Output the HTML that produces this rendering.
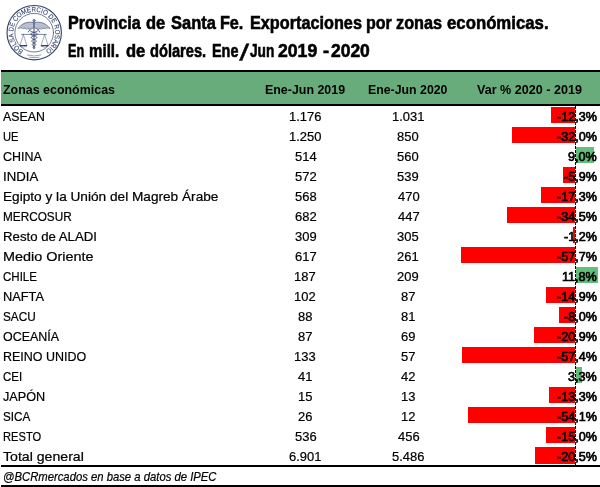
<!DOCTYPE html>
<html lang="es"><head><meta charset="utf-8"><title>Provincia de Santa Fe. Exportaciones por zonas económicas</title>
<style>
html,body{margin:0;padding:0;background:#fff;}
body{width:600px;height:487px;position:relative;overflow:hidden;font-family:"Liberation Sans",sans-serif;color:#000;}
h1,h2,p{margin:0;padding:0;font-size:inherit;font-weight:inherit}
.t{position:absolute;white-space:pre;line-height:1;transform-origin:0 0;display:block;margin:0;padding:0;-webkit-text-stroke:0.22px #000;}
.b{font-weight:bold;-webkit-text-stroke:0px #000;}.sb{-webkit-text-stroke:0.7px #000;}.i{font-style:italic}
.ttl .t{font-weight:bold;-webkit-text-stroke:0.6px #000;}
.hdr{position:absolute;left:1px;top:70px;width:599px;height:32px;background:#68ac7c;border-top:2px solid #000;border-bottom:2px solid #000;}
.ln{position:absolute;left:1px;width:599px;background:#000;}
.bar{position:absolute;height:16px;}
.neg{background:#ff0000}.pos{background:#63be7b}
.axis{position:absolute;left:575px;top:106px;width:1px;height:359px;background:repeating-linear-gradient(to bottom,#000 0,#000 3px,transparent 3px,transparent 4px);}
.logo{position:absolute;left:0;top:0}
</style></head><body>
<svg class="logo" width="70" height="66" viewBox="0 0 70 66" role="img" aria-label="Bolsa de Comercio de Rosario">
<defs><path id="ring" d="M23.49,50.53 A20.8,20.8 0 1 1 44.91,14.87 A20.8,20.8 0 1 1 23.49,50.53"/></defs>
<g fill="none" stroke="#34436f" stroke-linecap="round" stroke-linejoin="round">
<circle cx="34.2" cy="32.7" r="27.2" stroke-width="1.15"/>
<circle cx="34.2" cy="32.7" r="19.3" stroke-width="0.7"/>
<path d="M27.39,54.98 A23.3,23.3 0 0 0 41.01,54.98 M29.43,57.24 A25.0,25.0 0 0 0 38.97,57.24" stroke-width="0.5"/>
<path d="M34,21.8 V48.6" stroke-width="0.9"/>
<circle cx="34" cy="20.6" r="1.25" fill="#34436f" fill-opacity="0.45" stroke-width="0.5"/>
<path d="M33.30,22.6 C31.00,21.9 27.00,21.9 24.00,23.4 C21.50,24.8 19.40,26.6 17.90,28.5 C20.00,27.9 21.60,27.9 22.80,28.5 C24.40,28.1 25.60,28.3 26.60,29.1 C28.00,28.6 29.00,28.8 29.80,29.6 C31.00,29 32.40,28.4 33.30,28 Z M34.70,22.6 C37.00,21.9 41.00,21.9 44.00,23.4 C46.50,24.8 48.60,26.6 50.10,28.5 C48.00,27.9 46.40,27.9 45.20,28.5 C43.60,28.1 42.40,28.3 41.40,29.1 C40.00,28.6 39.00,28.8 38.20,29.6 C37.00,29 35.60,28.4 34.70,28 Z" fill="#34436f" fill-opacity="0.42" stroke-width="0.55"/>
<path d="M33.00,24 C29.00,23.2 25.00,24.4 19.60,27.6 M33.00,25.5 C29.50,24.8 26.00,25.8 22.40,28 M33.00,27 C30.50,26.5 28.00,27.2 26.00,28.6 M35.00,24 C39.00,23.2 43.00,24.4 48.40,27.6 M35.00,25.5 C38.50,24.8 42.00,25.8 45.60,28 M35.00,27 C37.50,26.5 40.00,27.2 42.00,28.6" stroke-width="0.45" stroke="#fff" stroke-opacity="0.75"/>
<path d="M39.60,31.9 C39.40,30.4 38.40,30 37.80,30.60 L37.70,30.82 L37.46,31.04 L37.10,31.26 L36.62,31.48 L36.04,31.70 L35.40,31.92 L34.71,32.14 L34.00,32.36 L33.30,32.58 L32.64,32.80 L32.04,33.02 L31.53,33.24 L31.12,33.46 L30.82,33.68 L30.65,33.90 L30.61,34.12 L30.71,34.34 L30.92,34.56 L31.25,34.78 L31.68,35.00 L32.19,35.22 L32.77,35.44 L33.38,35.66 L34.00,35.88 L34.61,36.10 L35.19,36.32 L35.71,36.54 L36.16,36.76 L36.51,36.98 L36.76,37.20 L36.90,37.42 L36.93,37.64 L36.84,37.86 L36.65,38.08 L36.36,38.30 L35.98,38.52 L35.54,38.74 L35.05,38.96 L34.53,39.18 L34.00,39.40 L33.48,39.62 L33.00,39.84 L32.57,40.06 L32.20,40.28 L31.91,40.50 L31.71,40.72 L31.61,40.94 L31.60,41.16 L31.68,41.38 L31.85,41.60 L32.09,41.82 L32.40,42.04 L32.77,42.26 L33.17,42.48 L33.58,42.70 L34.00,42.92 L34.40,43.14 L34.77,43.36 L35.10,43.58 L35.37,43.80 L35.57,44.02 L35.71,44.24 L35.77,44.46 L35.76,44.68 L35.68,44.90 L35.53,45.12 L35.34,45.34 L35.10,45.56 L34.84,45.78 L34.55,46.00 L34.27,46.22 L34.00,46.44 L33.75,46.66 L33.54,46.88 L33.37,47.10 L33.26,47.32 L33.20,47.54 L33.20,47.76 L33.28,47.98 L33.50,48.20" stroke-width="0.85"/>
<path d="M28.40,31.9 C28.60,30.4 29.60,30 30.20,30.60 L30.30,30.82 L30.54,31.04 L30.90,31.26 L31.38,31.48 L31.96,31.70 L32.60,31.92 L33.29,32.14 L34.00,32.36 L34.70,32.58 L35.36,32.80 L35.96,33.02 L36.47,33.24 L36.88,33.46 L37.18,33.68 L37.35,33.90 L37.39,34.12 L37.29,34.34 L37.08,34.56 L36.75,34.78 L36.32,35.00 L35.81,35.22 L35.23,35.44 L34.62,35.66 L34.00,35.88 L33.39,36.10 L32.81,36.32 L32.29,36.54 L31.84,36.76 L31.49,36.98 L31.24,37.20 L31.10,37.42 L31.07,37.64 L31.16,37.86 L31.35,38.08 L31.64,38.30 L32.02,38.52 L32.46,38.74 L32.95,38.96 L33.47,39.18 L34.00,39.40 L34.52,39.62 L35.00,39.84 L35.43,40.06 L35.80,40.28 L36.09,40.50 L36.29,40.72 L36.39,40.94 L36.40,41.16 L36.32,41.38 L36.15,41.60 L35.91,41.82 L35.60,42.04 L35.23,42.26 L34.83,42.48 L34.42,42.70 L34.00,42.92 L33.60,43.14 L33.23,43.36 L32.90,43.58 L32.63,43.80 L32.43,44.02 L32.29,44.24 L32.23,44.46 L32.24,44.68 L32.32,44.90 L32.47,45.12 L32.66,45.34 L32.90,45.56 L33.16,45.78 L33.45,46.00 L33.73,46.22 L34.00,46.44 L34.25,46.66 L34.46,46.88 L34.63,47.10 L34.74,47.32 L34.80,47.54 L34.80,47.76 L34.72,47.98 L34.50,48.20" stroke-width="0.85"/>
<path d="M21.6,34.4 H46.4" stroke-width="0.65"/>
<path d="M23.4,34.6 L20,45.2 M23.4,34.6 L26.8,45.2 M44.6,34.6 L41.2,45.2 M44.6,34.6 L48,45.2" stroke-width="0.45"/>
<path d="M19.7,45.7 H27.1 M40.9,45.7 H48.3" stroke-width="1.2" stroke-linecap="butt"/>
<path d="M20.2,46.4 Q23.4,48 26.6,46.4 M41.4,46.4 Q44.6,48 47.8,46.4" stroke-width="0.45"/>
</g>
<text font-family="Liberation Sans, sans-serif" font-size="7" fill="#34436f" stroke="#34436f" stroke-width="0.1"><textPath href="#ring" startOffset="0" textLength="107.8" lengthAdjust="spacingAndGlyphs">BOLSA DE COMERCIO DE ROSARIO</textPath></text>
</svg>
<h1 class="ttl"><span class="t b" style="left:68.19px;top:12px;font-size:19px;line-height:21px;transform:scaleX(0.8491)">Provincia</span> <span class="t b" style="left:146.35px;top:12px;font-size:19px;line-height:21px;transform:scaleX(0.8675)">de</span> <span class="t b" style="left:170.60px;top:12px;font-size:19px;line-height:21px;transform:scaleX(0.8676)">Santa</span> <span class="t b" style="left:220.19px;top:12px;font-size:19px;line-height:21px;transform:scaleX(0.8500)">Fe.</span> <span class="t b" style="left:249.93px;top:12px;font-size:19px;line-height:21px;transform:scaleX(0.8547)">Exportaciones</span> <span class="t b" style="left:365.69px;top:12px;font-size:19px;line-height:21px;transform:scaleX(0.8448)">por</span> <span class="t b" style="left:396.36px;top:12px;font-size:19px;line-height:21px;transform:scaleX(0.8565)">zonas</span> <span class="t b" style="left:447.34px;top:12px;font-size:19px;line-height:21px;transform:scaleX(0.8823)">económicas.</span></h1>
<h2 class="ttl"><span class="t b" style="left:68.40px;top:40px;font-size:18.6px;line-height:21px;transform:scaleX(0.6824)">En</span> <span class="t b" style="left:89.48px;top:40px;font-size:18.6px;line-height:21px;transform:scaleX(0.8129)">mill.</span> <span class="t b" style="left:125.58px;top:40px;font-size:18.6px;line-height:21px;transform:scaleX(0.8889)">de</span> <span class="t b" style="left:149.91px;top:40px;font-size:18.6px;line-height:21px;transform:scaleX(0.7870)">dólares.</span> <span class="t b" style="left:212.33px;top:40px;font-size:18.6px;line-height:21px;transform:scaleX(0.7752)">Ene</span><span class="t b" style="left:241.4px;top:40px;font-size:22.5px;line-height:25px;transform-origin:50% 50%;transform:skewX(-13deg)">/</span><span class="t b" style="left:250.12px;top:40px;font-size:18.6px;line-height:21px;transform:scaleX(0.7370)">Jun</span> <span class="t b" style="left:278.09px;top:40px;font-size:18.6px;line-height:21px;transform:scaleX(0.9487)">2019</span> <span class="t b" style="left:322.56px;top:40px;font-size:18.6px;line-height:21px;transform:scaleX(0.9895)">-</span> <span class="t b" style="left:331.30px;top:40px;font-size:18.6px;line-height:21px;transform:scaleX(0.9384)">2020</span></h2>
<div class="hdr"></div>
<div class="head"><span class="t b" style="left:3.13px;top:82px;font-size:13.1px;line-height:15px;transform:scaleX(0.9499)">Zonas económicas</span><span class="t b" style="left:265.05px;top:82px;font-size:13.1px;line-height:15px;transform:scaleX(0.9482)">Ene-Jun 2019</span><span class="t b" style="left:368.46px;top:82px;font-size:13.1px;line-height:15px;transform:scaleX(0.9414)">Ene-Jun 2020</span><span class="t b" style="left:477.26px;top:82px;font-size:13.1px;line-height:15px;transform:scaleX(0.9613)">Var % 2020 - 2019</span></div>
<div class="row"><i class="bar neg" style="left:551px;top:107px;width:24px"></i><span class="t" style="left:3.10px;top:109px;font-size:13.1px;line-height:15px;transform:scaleX(0.9422)">ASEAN</span><span class="t" style="left:288.96px;top:109px;font-size:13.1px;line-height:15px;transform:scaleX(0.9889)">1.176</span><span class="t" style="left:391.76px;top:109px;font-size:13.1px;line-height:15px;transform:scaleX(0.9889)">1.031</span><span class="t sb" style="left:556.52px;top:109px;font-size:13.1px;line-height:15px;transform:scaleX(0.9630)">-12,3%</span></div>
<div class="row"><i class="bar neg" style="left:512px;top:127px;width:63px"></i><span class="t" style="left:3.25px;top:129px;font-size:13.1px;line-height:15px;transform:scaleX(0.8485)">UE</span><span class="t" style="left:288.96px;top:129px;font-size:13.1px;line-height:15px;transform:scaleX(0.9889)">1.250</span><span class="t" style="left:397.45px;top:129px;font-size:13.1px;line-height:15px;transform:scaleX(0.9889)">850</span><span class="t sb" style="left:556.52px;top:129px;font-size:13.1px;line-height:15px;transform:scaleX(0.9630)">-32,0%</span></div>
<div class="row"><i class="bar pos" style="left:576px;top:147px;width:18px"></i><span class="t" style="left:2.89px;top:149px;font-size:13.1px;line-height:15px;transform:scaleX(0.9500)">CHINA</span><span class="t" style="left:294.52px;top:149px;font-size:13.1px;line-height:15px;transform:scaleX(0.9889)">514</span><span class="t" style="left:397.45px;top:149px;font-size:13.1px;line-height:15px;transform:scaleX(0.9889)">560</span><span class="t sb" style="left:567.83px;top:149px;font-size:13.1px;line-height:15px;transform:scaleX(0.9630)">9,0%</span></div>
<div class="row"><i class="bar neg" style="left:563px;top:167px;width:12px"></i><span class="t" style="left:2.84px;top:169px;font-size:13.1px;line-height:15px;transform:scaleX(1.0075)">INDIA</span><span class="t" style="left:294.65px;top:169px;font-size:13.1px;line-height:15px;transform:scaleX(0.9889)">572</span><span class="t" style="left:397.45px;top:169px;font-size:13.1px;line-height:15px;transform:scaleX(0.9889)">539</span><span class="t sb" style="left:563.50px;top:169px;font-size:13.1px;line-height:15px;transform:scaleX(0.9630)">-5,9%</span></div>
<div class="row"><i class="bar neg" style="left:541px;top:187px;width:34px"></i><span class="t" style="left:3.06px;top:189px;font-size:13.1px;line-height:15px;transform:scaleX(1.0421)">Egipto y la Unión del Magreb Árabe</span><span class="t" style="left:294.65px;top:189px;font-size:13.1px;line-height:15px;transform:scaleX(0.9889)">568</span><span class="t" style="left:397.57px;top:189px;font-size:13.1px;line-height:15px;transform:scaleX(0.9889)">470</span><span class="t sb" style="left:556.52px;top:189px;font-size:13.1px;line-height:15px;transform:scaleX(0.9630)">-17,3%</span></div>
<div class="row"><i class="bar neg" style="left:507px;top:207px;width:68px"></i><span class="t" style="left:3.20px;top:209px;font-size:13.1px;line-height:15px;transform:scaleX(0.8997)">MERCOSUR</span><span class="t" style="left:294.52px;top:209px;font-size:13.1px;line-height:15px;transform:scaleX(0.9889)">682</span><span class="t" style="left:397.57px;top:209px;font-size:13.1px;line-height:15px;transform:scaleX(0.9889)">447</span><span class="t sb" style="left:556.52px;top:209px;font-size:13.1px;line-height:15px;transform:scaleX(0.9630)">-34,5%</span></div>
<div class="row"><i class="bar neg" style="left:573px;top:227px;width:2px"></i><span class="t" style="left:3.09px;top:229px;font-size:13.1px;line-height:15px;transform:scaleX(1.0082)">Resto de ALADI</span><span class="t" style="left:294.65px;top:229px;font-size:13.1px;line-height:15px;transform:scaleX(0.9889)">309</span><span class="t" style="left:397.45px;top:229px;font-size:13.1px;line-height:15px;transform:scaleX(0.9889)">305</span><span class="t sb" style="left:563.50px;top:229px;font-size:13.1px;line-height:15px;transform:scaleX(0.9630)">-1,2%</span></div>
<div class="row"><i class="bar neg" style="left:461px;top:247px;width:114px"></i><span class="t" style="left:3.00px;top:249px;font-size:13.1px;line-height:15px;transform:scaleX(1.0991)">Medio Oriente</span><span class="t" style="left:294.52px;top:249px;font-size:13.1px;line-height:15px;transform:scaleX(0.9889)">617</span><span class="t" style="left:397.32px;top:249px;font-size:13.1px;line-height:15px;transform:scaleX(0.9889)">261</span><span class="t sb" style="left:556.52px;top:249px;font-size:13.1px;line-height:15px;transform:scaleX(0.9630)">-57,7%</span></div>
<div class="row"><i class="bar pos" style="left:576px;top:267px;width:22px"></i><span class="t" style="left:2.94px;top:269px;font-size:13.1px;line-height:15px;transform:scaleX(0.8792)">CHILE</span><span class="t" style="left:294.40px;top:269px;font-size:13.1px;line-height:15px;transform:scaleX(0.9889)">187</span><span class="t" style="left:397.32px;top:269px;font-size:13.1px;line-height:15px;transform:scaleX(0.9889)">209</span><span class="t sb" style="left:561.57px;top:269px;font-size:13.1px;line-height:15px;transform:scaleX(0.9630)">11,8%</span></div>
<div class="row"><i class="bar neg" style="left:546px;top:287px;width:29px"></i><span class="t" style="left:3.12px;top:289px;font-size:13.1px;line-height:15px;transform:scaleX(0.9755)">NAFTA</span><span class="t" style="left:294.40px;top:289px;font-size:13.1px;line-height:15px;transform:scaleX(0.9889)">102</span><span class="t" style="left:401.03px;top:289px;font-size:13.1px;line-height:15px;transform:scaleX(0.9889)">87</span><span class="t sb" style="left:556.52px;top:289px;font-size:13.1px;line-height:15px;transform:scaleX(0.9630)">-14,9%</span></div>
<div class="row"><i class="bar neg" style="left:559px;top:307px;width:16px"></i><span class="t" style="left:2.68px;top:309px;font-size:13.1px;line-height:15px;transform:scaleX(0.8993)">SACU</span><span class="t" style="left:298.23px;top:309px;font-size:13.1px;line-height:15px;transform:scaleX(0.9889)">88</span><span class="t" style="left:401.03px;top:309px;font-size:13.1px;line-height:15px;transform:scaleX(0.9889)">81</span><span class="t sb" style="left:563.50px;top:309px;font-size:13.1px;line-height:15px;transform:scaleX(0.9630)">-8,0%</span></div>
<div class="row"><i class="bar neg" style="left:534px;top:327px;width:41px"></i><span class="t" style="left:2.89px;top:329px;font-size:13.1px;line-height:15px;transform:scaleX(0.9526)">OCEANÍA</span><span class="t" style="left:298.23px;top:329px;font-size:13.1px;line-height:15px;transform:scaleX(0.9889)">87</span><span class="t" style="left:400.91px;top:329px;font-size:13.1px;line-height:15px;transform:scaleX(0.9889)">69</span><span class="t sb" style="left:556.52px;top:329px;font-size:13.1px;line-height:15px;transform:scaleX(0.9630)">-20,9%</span></div>
<div class="row"><i class="bar neg" style="left:462px;top:347px;width:113px"></i><span class="t" style="left:3.15px;top:349px;font-size:13.1px;line-height:15px;transform:scaleX(0.9534)">REINO UNIDO</span><span class="t" style="left:294.40px;top:349px;font-size:13.1px;line-height:15px;transform:scaleX(0.9889)">133</span><span class="t" style="left:401.03px;top:349px;font-size:13.1px;line-height:15px;transform:scaleX(0.9889)">57</span><span class="t sb" style="left:556.52px;top:349px;font-size:13.1px;line-height:15px;transform:scaleX(0.9630)">-57,4%</span></div>
<div class="row"><i class="bar pos" style="left:576px;top:367px;width:6px"></i><span class="t" style="left:2.94px;top:369px;font-size:13.1px;line-height:15px;transform:scaleX(0.8734)">CEI</span><span class="t" style="left:298.35px;top:369px;font-size:13.1px;line-height:15px;transform:scaleX(0.9889)">41</span><span class="t" style="left:401.15px;top:369px;font-size:13.1px;line-height:15px;transform:scaleX(0.9889)">42</span><span class="t sb" style="left:567.83px;top:369px;font-size:13.1px;line-height:15px;transform:scaleX(0.9630)">3,3%</span></div>
<div class="row"><i class="bar neg" style="left:549px;top:387px;width:26px"></i><span class="t" style="left:2.86px;top:389px;font-size:13.1px;line-height:15px;transform:scaleX(0.9645)">JAPÓN</span><span class="t" style="left:297.98px;top:389px;font-size:13.1px;line-height:15px;transform:scaleX(0.9889)">15</span><span class="t" style="left:400.78px;top:389px;font-size:13.1px;line-height:15px;transform:scaleX(0.9889)">13</span><span class="t sb" style="left:556.52px;top:389px;font-size:13.1px;line-height:15px;transform:scaleX(0.9630)">-13,3%</span></div>
<div class="row"><i class="bar neg" style="left:468px;top:407px;width:107px"></i><span class="t" style="left:2.68px;top:409px;font-size:13.1px;line-height:15px;transform:scaleX(0.8908)">SICA</span><span class="t" style="left:298.11px;top:409px;font-size:13.1px;line-height:15px;transform:scaleX(0.9889)">26</span><span class="t" style="left:400.78px;top:409px;font-size:13.1px;line-height:15px;transform:scaleX(0.9889)">12</span><span class="t sb" style="left:556.52px;top:409px;font-size:13.1px;line-height:15px;transform:scaleX(0.9630)">-54,1%</span></div>
<div class="row"><i class="bar neg" style="left:546px;top:427px;width:29px"></i><span class="t" style="left:3.25px;top:429px;font-size:13.1px;line-height:15px;transform:scaleX(0.8497)">RESTO</span><span class="t" style="left:294.65px;top:429px;font-size:13.1px;line-height:15px;transform:scaleX(0.9889)">536</span><span class="t" style="left:397.57px;top:429px;font-size:13.1px;line-height:15px;transform:scaleX(0.9889)">456</span><span class="t sb" style="left:556.52px;top:429px;font-size:13.1px;line-height:15px;transform:scaleX(0.9630)">-15,0%</span></div>
<div class="row"><i class="bar neg" style="left:535px;top:447px;width:40px;height:17px"></i><span class="t" style="left:2.83px;top:449px;font-size:13.1px;line-height:15px;transform:scaleX(1.0780)">Total general</span><span class="t" style="left:289.08px;top:449px;font-size:13.1px;line-height:15px;transform:scaleX(0.9889)">6.901</span><span class="t" style="left:392.01px;top:449px;font-size:13.1px;line-height:15px;transform:scaleX(0.9889)">5.486</span><span class="t sb" style="left:556.52px;top:449px;font-size:13.1px;line-height:15px;transform:scaleX(0.9630)">-20,5%</span></div>
<div class="axis"></div>
<div class="ln" style="top:465px;height:2px"></div>
<div class="ln" style="top:485px;height:2px"></div>
<p class="t i" style="left:2.86px;top:470px;font-size:12.4px;line-height:14px;transform:scaleX(0.9109)">@BCRmercados en base a datos de IPEC</p>
</body></html>
